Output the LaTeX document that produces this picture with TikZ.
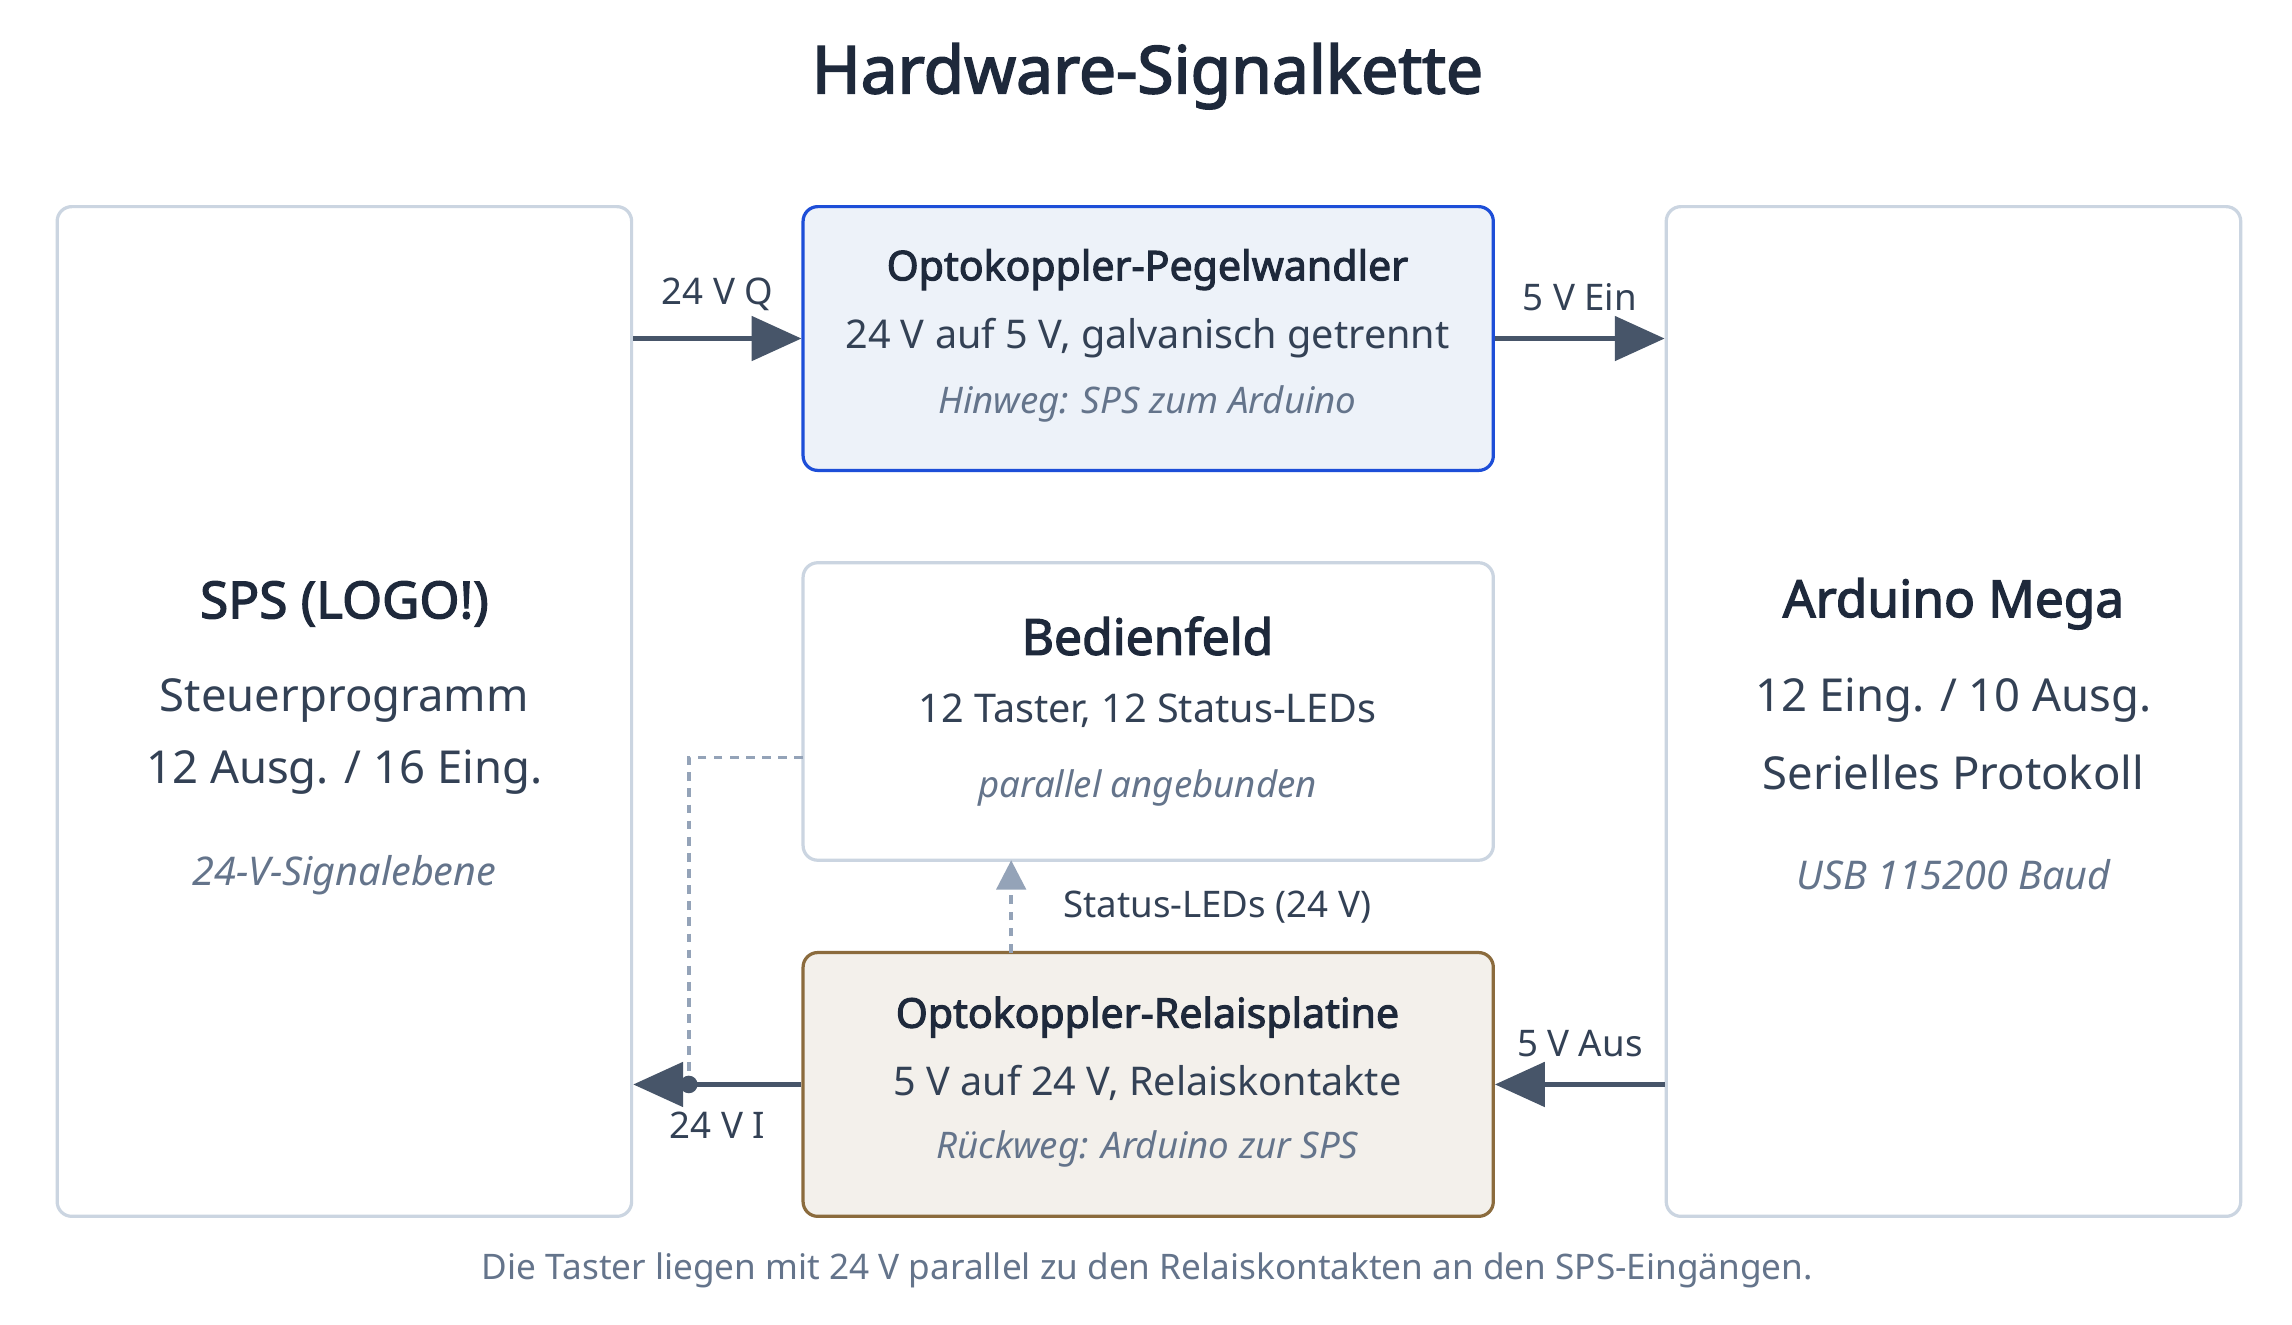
\documentclass[tikz,border=0pt]{standalone}
\usepackage{fontspec}
\setmainfont{Noto Sans}[AutoFakeBold=2.5]
\usetikzlibrary{arrows.meta}
\definecolor{ink}{HTML}{1E293B}
\definecolor{muted}{HTML}{64748B}
\definecolor{txt}{HTML}{334155}
\definecolor{edge}{HTML}{CBD5E1}
\definecolor{arr}{HTML}{475569}
\definecolor{lite}{HTML}{94A3B8}
\definecolor{blueb}{HTML}{1D4ED8}
\definecolor{bluef}{HTML}{EDF2F9}
\definecolor{brownb}{HTML}{8B6B3D}
\definecolor{brownf}{HTML}{F3F0EB}
\newcommand{\fs}[1]{\fontsize{#1}{#1}\selectfont}
\tikzset{
 box/.style={draw=edge,line width=2.2pt,rounded corners=10pt,fill=white,inner sep=0},
 ttl/.style={text=ink,font=\fs{#1}\bfseries},
 sub/.style={text=txt,font=\fs{#1}},
 note/.style={text=muted,font=\fs{#1}\itshape},
 lbl/.style={text=txt,font=\fs{25}},
 flow/.style={draw=arr,line width=3.5pt,-{Triangle[length=34pt,width=30pt]}},
 dashline/.style={draw=lite,line width=2.5pt,dash pattern=on 6pt off 5pt},
}
\begin{document}
\begin{tikzpicture}[x=1pt,y=-1pt]
\useasboundingbox[fill=white] (0,0) rectangle (1564,904);
\node[ttl=45] (title) at (783,52) {Hardware-Signalkette};
\node[box,minimum width=392pt,minimum height=689pt] (sps) at (235,485.5) {};
\node[box,minimum width=392pt,minimum height=689pt] (ard) at (1333,485.5) {};
\node[box,draw=blueb,fill=bluef,minimum width=471pt,minimum height=180pt] (opto) at (783.5,231) {};
\node[box,minimum width=471pt,minimum height=203pt] (bed) at (783.5,485.5) {};
\node[box,draw=brownb,fill=brownf,minimum width=471pt,minimum height=180pt] (rel) at (783.5,740) {};
\node[ttl=35] (t1) at (235,412) {SPS (LOGO!)};
\node[sub=31] (t2) at (235,478) {Steuerprogramm};
\node[sub=31] (t3) at (235,527) {12 Ausg. / 16 Eing.};
\node[note=27] (t4) at (235,597) {24-V-Signalebene};
\node[ttl=35] (a1) at (1333,412) {Arduino Mega};
\node[sub=31] (a2) at (1333,478) {12 Eing. / 10 Ausg.};
\node[sub=31] (a3) at (1333,527) {Serielles Protokoll};
\node[note=27] (a4) at (1333,597) {USB 115200 Baud};
\node[ttl=28] (o1) at (783,184) {Optokoppler-Pegelwandler};
\node[sub=27] (o2) at (783,231) {24 V auf 5 V, galvanisch getrennt};
\node[note=25] (o3) at (783,276) {Hinweg: SPS zum Arduino};
\node[ttl=34] (b1) at (783,434) {Bedienfeld};
\node[sub=27] (b2) at (783,485) {12 Taster, 12 Status-LEDs};
\node[note=25] (b3) at (783,538) {parallel angebunden};
\node[ttl=28] (r1) at (783,694) {Optokoppler-Relaisplatine};
\node[sub=27] (r2) at (783,739) {5 V auf 24 V, Relaiskontakte};
\node[note=25] (r3) at (783,784) {Rückweg: Arduino zur SPS};
\coordinate (dot) at (470,740);
\coordinate (bw) at (548,517);
\coordinate (sup) at (690,650);
\coordinate (sdn) at (690,587);
\draw[flow] (sps.east |- opto.west) -- (opto.west) node[lbl,midway,above=14pt] (l1) {24 V Q};
\draw[flow] (opto.east) -- (ard.west |- opto.east) node[lbl,midway,above=14pt] (l2) {5 V Ein};
\draw[flow] (ard.west |- rel.east) -- (rel.east) node[lbl,midway,above=14pt] (l3) {5 V Aus};
\draw[flow] (rel.west) -- (sps.east |- rel.west) node[lbl,pos=0.5,below=14pt] (l4) {24 V I};
\draw[dashline] (bw) -| (dot);
\fill[arr] (dot) circle (6pt);
\draw[dashline,-{Triangle[length=20pt,width=20pt]}] (sup) -- (sdn);
\node[lbl,anchor=west] (l5) at (722,619) {Status-LEDs (24 V)};
\node[text=muted,font=\fs{24}] (cap) at (783,867) {Die Taster liegen mit 24 V parallel zu den Relaiskontakten an den SPS-Eingängen.};
\end{tikzpicture}
\end{document}
